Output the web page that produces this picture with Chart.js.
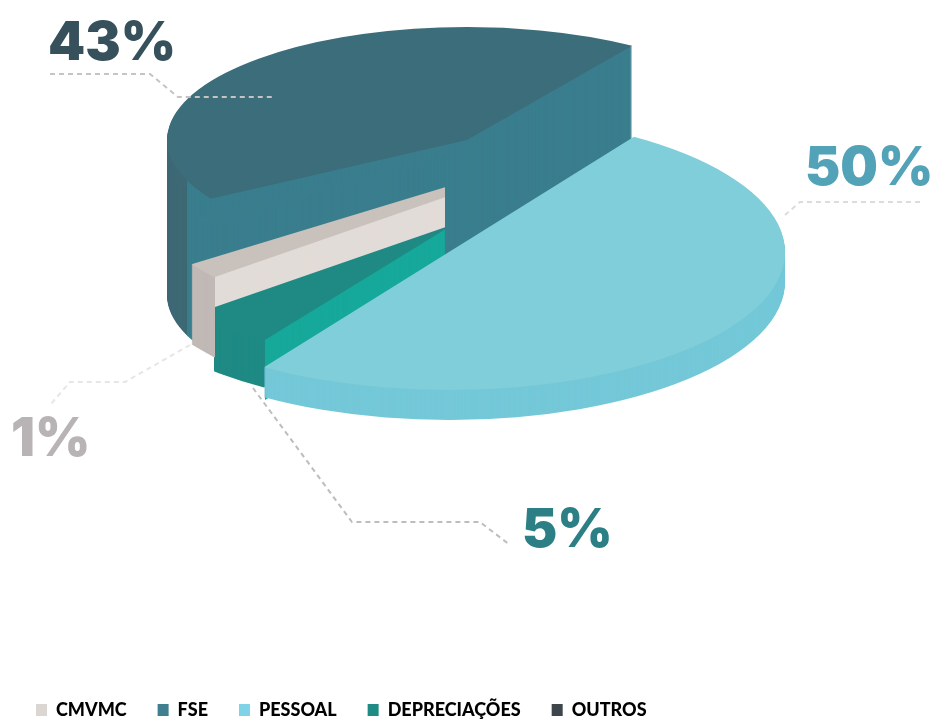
<!DOCTYPE html>
<html>
<head>
<meta charset="utf-8">
<style>
  html, body { margin: 0; padding: 0; background: #ffffff; }
  canvas { display: block; }
</style>
<script src="https://cdn.jsdelivr.net/npm/chart.js@4"></script>
</head>
<body>
<canvas id="chart" width="933" height="719"></canvas>
<script>
const categories = ["PESSOAL", "DEPRECIAÇÕES", "CMVMC", "FSE", "OUTROS"];
const shares = [50, 5, 1, 1, 43];
const legendOrder = ["CMVMC", "FSE", "PESSOAL", "DEPRECIAÇÕES", "OUTROS"];
const legendColors = ["#dcd6d2", "#3f7f90", "#7fd3e6", "#1f8b85", "#3e464b"];
const topColors = ["#80ced9", "#1f8a84", "#c9c1bc", "#3a7e8e", "#3c6d7b"];
const rimColors = ["#74c8d8", "#1f8a84", "#c0b9b6", "#3a7e8e", "#3e6975"];
const faceColors = ["#74c8d8", "#17a99b", "#e2dcd8", "#3a7e8e", "#3a7e8e"];

// ellipse each slice is projected on, how deep its walls run, and where rim turns into radial face
const sliceLayout = [
  { cx: 449, cy: 252, rx: 336, ry: 138, rimDepth: 30, faceDepth: 30, rimEnd: 265, minX: 0, maxX: 933 },
  { cx: 449, cy: 227, rx: 336, ry: 136, rimDepth: 47, faceDepth: 60, rimEnd: 265, minX: 214, maxX: 445 },
  { cx: 683, cy: 115, rx: 600, ry: 260, rimDepth: 80, faceDepth: 30, rimEnd: 215, minX: 0, maxX: 445 },
  { cx: 449, cy: 155, rx: 296, ry: 122, rimDepth: 70, faceDepth: 70, rimEnd: 187, minX: 0, maxX: 933 },
  { cx: 467, cy: 140, rx: 300, ry: 113, rimDepth: 155, faceDepth: 155, rimEnd: 187, minX: 0, maxX: 933 }
];
const backToFront = [4, 3, 1, 2, 0];

const percentLabels = [
  { slice: 4, x: 48, y: 60, color: "#36505c" },
  { slice: 0, x: 805, y: 185, color: "#52a2b8" },
  { slice: 2, x: 11, y: 456, color: "#b8b4b6" },
  { slice: 1, x: 522, y: 547, color: "#2c8085" }
];
const leaderLines = [
  { color: "#c4c4c4", points: [[50, 74], [150, 74], [178, 97], [272, 97]] },
  { color: "#dcdcdc", points: [[920, 202], [800, 202], [785, 215]] },
  { color: "#e6e6e6", points: [[190, 345], [125, 382], [70, 382], [50, 405]] },
  { color: "#bdbdbd", points: [[253, 388], [352, 522], [480, 522], [510, 545]] }
];

function paintArc(ctx, arc, place, lift, color) {
  const saved = arc.options;
  const k = arc.outerRadius;
  arc.options = Object.assign({}, saved, { backgroundColor: color, borderWidth: 0 });
  ctx.save();
  ctx.translate(place.cx, place.cy + lift);
  ctx.scale(place.rx / k, place.ry / k);
  ctx.translate(-arc.x, -arc.y);
  arc.draw(ctx);
  ctx.restore();
  arc.options = saved;
}

function paintWall(ctx, arc, place, color, depth, fromX, toX) {
  ctx.save();
  ctx.beginPath();
  ctx.rect(fromX, 0, toX - fromX, 719);
  ctx.clip();
  for (let lift = depth; lift > 0; lift--) {
    paintArc(ctx, arc, place, lift, color);
  }
  ctx.restore();
}

// extruded pie: the arcs computed by the doughnut controller are stamped in layers
const extrudedPie = {
  id: "extrudedPie",
  beforeDatasetsDraw(chart) {
    const ctx = chart.ctx;
    const arcs = chart.getDatasetMeta(0).data;
    backToFront.forEach((i) => {
      const place = sliceLayout[i];
      paintWall(ctx, arcs[i], place, rimColors[i], place.rimDepth, place.minX, place.rimEnd);
      paintWall(ctx, arcs[i], place, faceColors[i], place.faceDepth, place.rimEnd, place.maxX);
      ctx.save();
      ctx.beginPath();
      ctx.rect(place.minX, 0, place.maxX - place.minX, 719);
      ctx.clip();
      paintArc(ctx, arcs[i], place, 0, topColors[i]);
      ctx.restore();
    });
    return false;
  },
  afterDraw(chart) {
    const ctx = chart.ctx;
    ctx.save();
    ctx.lineWidth = 2;
    ctx.setLineDash([5, 4]);
    leaderLines.forEach((line) => {
      ctx.strokeStyle = line.color;
      ctx.beginPath();
      line.points.forEach((p, n) => (n ? ctx.lineTo(p[0], p[1]) : ctx.moveTo(p[0], p[1])));
      ctx.stroke();
    });
    ctx.setLineDash([]);
    ctx.font = '900 53px Inter';
    ctx.textBaseline = "alphabetic";
    percentLabels.forEach((item) => {
      ctx.fillStyle = item.color;
      ctx.fillText(shares[item.slice] + "%", item.x, item.y);
    });
    ctx.restore();
  }
};

new Chart(document.getElementById("chart"), {
  type: "pie",
  data: {
    labels: categories,
    datasets: [{ data: shares, backgroundColor: topColors, borderWidth: 0 }]
  },
  plugins: [extrudedPie],
  options: {
    responsive: false,
    animation: false,
    rotation: 33.4,
    layout: { padding: { left: 5, bottom: -10 } },
    plugins: {
      tooltip: { enabled: false },
      legend: {
        position: "bottom",
        align: "start",
        labels: {
          boxWidth: 11,
          boxHeight: 12,
          padding: 31,
          color: "#2e3338",
          font: { family: "Lato", size: 18, weight: "900" },
          generateLabels: () => legendOrder.map((text, n) => ({
            text,
            fillStyle: legendColors[n],
            strokeStyle: legendColors[n],
            lineWidth: 0,
            index: categories.indexOf(text)
          }))
        }
      }
    }
  }
});
</script>
</body>
</html>
